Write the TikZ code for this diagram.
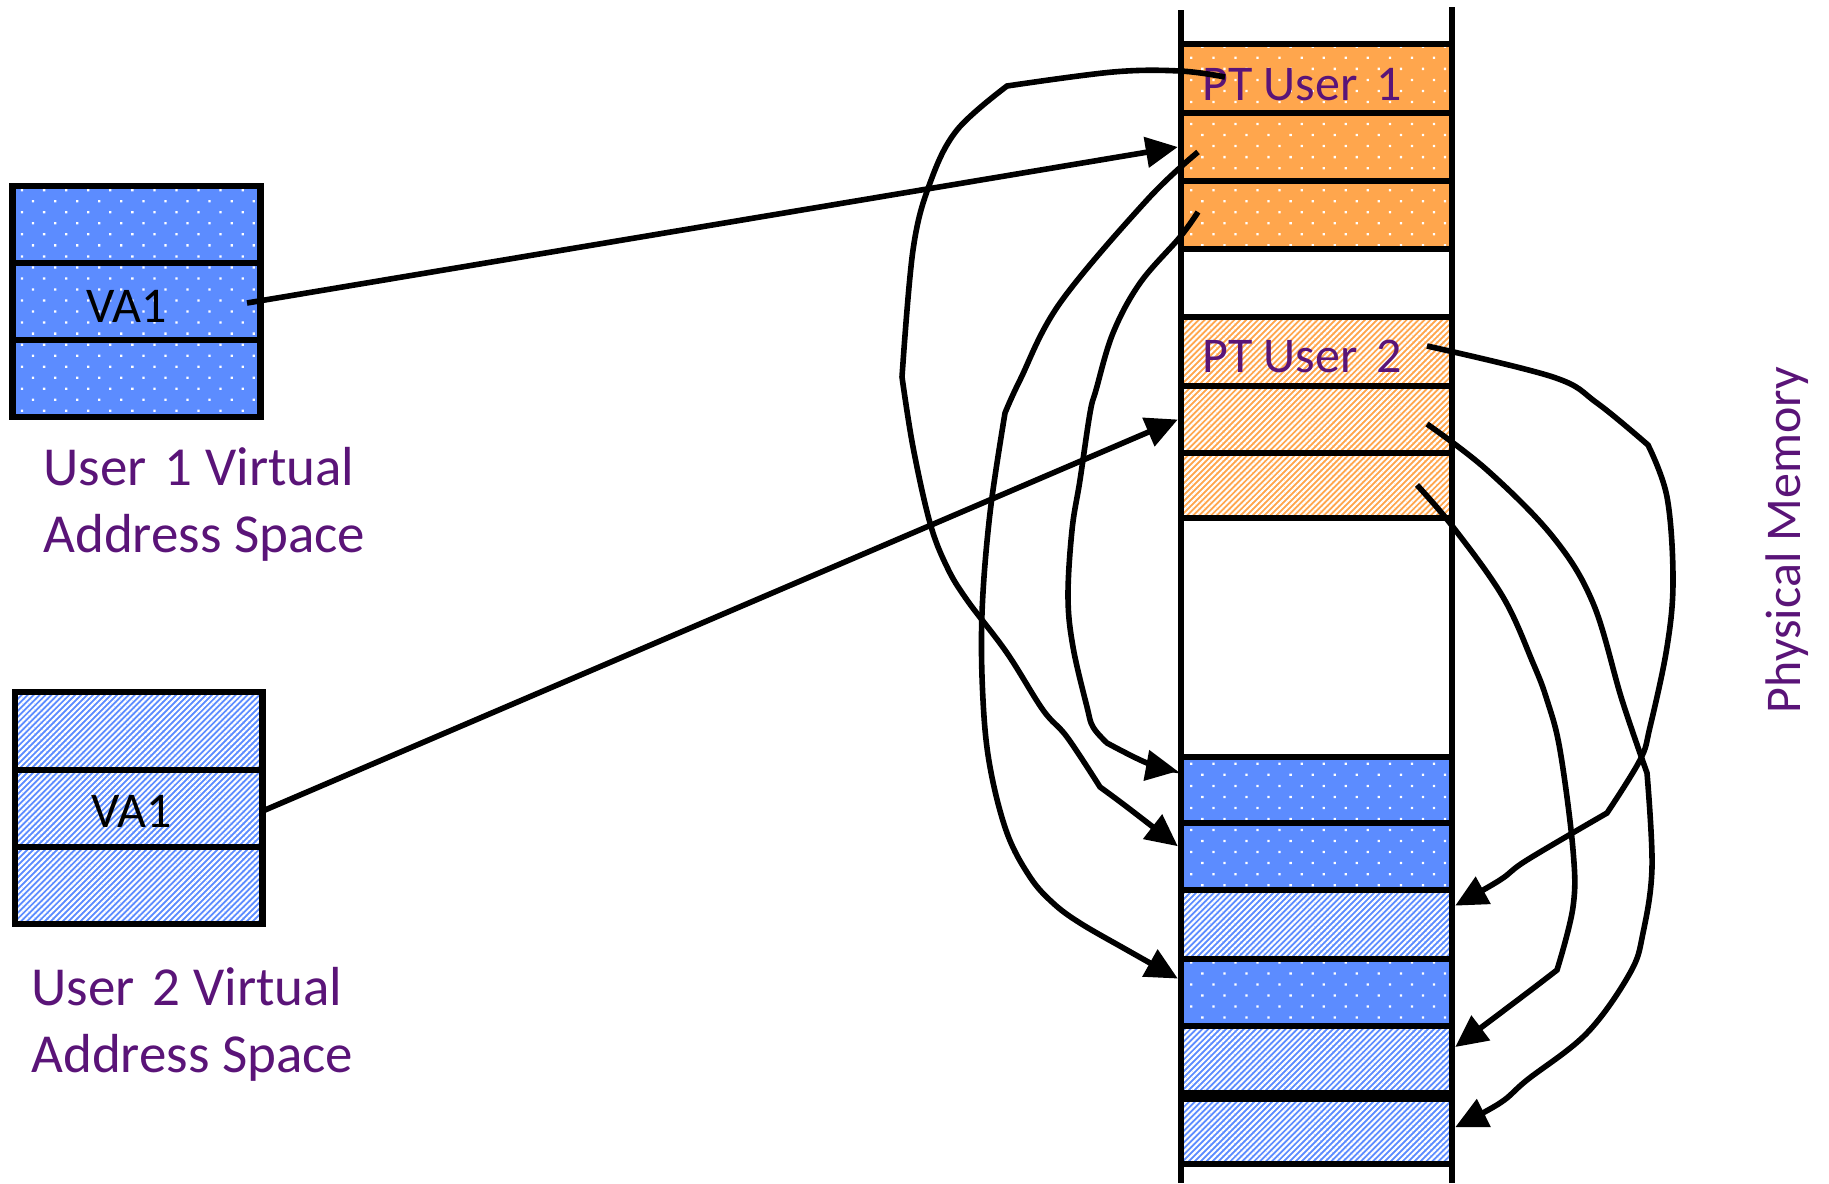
\documentclass[tikz,border=0pt]{standalone}
\usepackage{fontspec}
\setmainfont{Carlito}
\usetikzlibrary{arrows.meta,patterns.meta,fit,calc}

\definecolor{memorange}{RGB}{255,166,77}
\definecolor{memblue}{RGB}{92,140,255}
\definecolor{textpurple}{RGB}{90,20,120}

\tikzset{
  cell/.style={draw=black, line width=3.2pt, inner sep=0pt, preaction={fill=#1}},
  dotcell/.style={cell=#1, pattern={Dots[distance=7.8pt,angle=45,radius=0.8pt]}, pattern color=white},
  hatchcell/.style={cell=#1, pattern={Lines[angle=45,distance=2.1pt,line width=1.05pt]}, pattern color=white},
  rail/.style={line width=3.2pt},
  link/.style={line width=2.8pt, -{Triangle[length=16pt,width=15pt]}},
  celltext/.style={inner sep=0pt, font=\fontsize{25pt}{30pt}\selectfont},
  purpletext/.style={celltext, text=textpurple},
  spacelabel/.style={inner sep=0pt, text=textpurple, font=\fontsize{27.5pt}{33pt}\selectfont, anchor=base west},
}

\begin{document}
\begin{tikzpicture}[x=0.5pt, y=-0.5pt]
\useasboundingbox (0,0) rectangle (1829,1183);

% ---- user 1 virtual address space
\node[dotcell=memblue, fit={(12.5,186)(260.5,263)}] (u1a) {};
\node[dotcell=memblue, fit={(12.5,263)(260.5,340)}] (u1b) {};
\node[dotcell=memblue, fit={(12.5,340)(260.5,417)}] (u1c) {};
\node[celltext, anchor=base west] (va1) at (86,322) {VA1};
\node[spacelabel] (lab1a) at (43,485) {User\hspace{0.33em}1 Virtual};
\node[spacelabel] (lab1b) at (43,552) {Address Space};

% ---- user 2 virtual address space
\node[hatchcell=memblue, fit={(15,692)(262.5,770)}] (u2a) {};
\node[hatchcell=memblue, fit={(15,770)(262.5,847)}] (u2b) {};
\node[hatchcell=memblue, fit={(15,847)(262.5,924)}] (u2c) {};
\node[celltext, anchor=base west] (va2) at (91,827) {VA1};
\node[spacelabel] (lab2a) at (31,1005) {User\hspace{0.33em}2 Virtual};
\node[spacelabel] (lab2b) at (31,1072) {Address Space};

% ---- physical memory column
\node[dotcell=memorange, fit={(1181,44)(1452,113)}] (o1) {};
\node[dotcell=memorange, fit={(1181,113)(1452,181)}] (o2) {};
\node[dotcell=memorange, fit={(1181,181)(1452,249)}] (o3) {};
\node[hatchcell=memorange, fit={(1181,317)(1452,386)}] (o4) {};
\node[hatchcell=memorange, fit={(1181,386)(1452,453)}] (o5) {};
\node[hatchcell=memorange, fit={(1181,453)(1452,518)}] (o6) {};

\node[dotcell=memblue, fit={(1181,757)(1452,823)}] (b1) {};
\node[dotcell=memblue, fit={(1181,823)(1452,890)}] (b2) {};
\node[hatchcell=memblue, fit={(1181,890)(1452,959)}] (b3) {};
\node[dotcell=memblue, fit={(1181,959)(1452,1026)}] (b4) {};
\node[hatchcell=memblue, fit={(1181,1026)(1452,1093)}] (b5) {};
\node[hatchcell=memblue, fit={(1181,1099)(1452,1164)}] (b6) {};

\draw[rail] (1181,10) -- (1181,1183);
\draw[rail] (1452,7) -- (1452,1183);

\node[purpletext, anchor=base west] (pt1) at (1202,100) {PT User\hspace{0.38em}1};
\node[purpletext, anchor=base west] (pt2) at (1202,372) {PT User\hspace{0.38em}2};
\node[purpletext, rotate=90, anchor=base] (phys) at (1800,540) {Physical Memory};

% ---- connector ends
\coordinate (a1s) at (247,303);
\coordinate (a2s) at (265,810);
\coordinate (c1s) at (1225,77);
\coordinate (c2s) at (1198,152);
\coordinate (c3s) at (1198,212);
\coordinate (d1s) at (1427,346);
\coordinate (d2s) at (1427,424);
\coordinate (d3s) at (1417,485);

\coordinate (c1e) at ($(b2.north west)!0.36!(b2.south west)$);
\coordinate (c2e) at ($(b4.north west)!0.31!(b4.south west)$);
\coordinate (c3e) at ($(b1.north west)!0.24!(b1.south west)$);
\coordinate (d1e) at ($(b3.north east)!0.25!(b3.south east)$);
\coordinate (d2e) at ($(b6.north east)!0.44!(b6.south east)$);
\coordinate (d3e) at ($(b5.north east)!0.33!(b5.south east)$);

% ---- virtual address -> page table entry
\draw[link] (a1s) -- (o2.west);
\draw[link] (a2s) -- (o5.west);

% ---- page table entries -> frames (user 1)
\draw[link] plot[smooth,tension=0.6] coordinates {(c1s) (1180,71) (1113,72) (1007,86)}
  -- plot[smooth,tension=0.6] coordinates {(1007,86) (957,130) (930,183) (913,250) (902,377)}
  -- plot[smooth,tension=0.6] coordinates {(902,377) (913,447) (930,523) (947,567) (967,600) (1007,653) (1043,710) (1067,737) (1100,787)}
  -- plot[smooth,tension=0.6] coordinates {(1100,787) (1127,807) (c1e)};

\draw[link] plot[smooth,tension=0.6] coordinates {(c2s) (1147,200) (1060,303) (1020,380) (1005,413)}
  -- plot[smooth,tension=0.6] coordinates {(1005,413) (990,513) (982,613) (983,700) (990,767) (1007,833) (1030,877) (1053,903) (1080,923) (1127,950) (c2e)};

\draw[link] plot[smooth,tension=0.6] coordinates {(c3s) (1180,237) (1140,283) (1113,333) (1096,390) (1090,413) (1080,480) (1072,530) (1068,597) (1073,647) (1087,707) (1093,727) (1107,743)}
  -- plot[smooth,tension=0.6] coordinates {(1107,743) (1147,763) (c3e)};

% ---- page table entries -> frames (user 2)
\draw[link] plot[smooth,tension=0.6] coordinates {(d1s) (1553,377) (1597,403) (1648,445)}
  -- plot[smooth,tension=0.6] coordinates {(1648,445) (1667,497) (1673,580) (1667,647) (1650,727) (1640,760) (1607,813)}
  -- plot[smooth,tension=0.6] coordinates {(1607,813) (1527,860) (1500,880) (d1e)};

\draw[link] plot[smooth,tension=0.6] coordinates {(d2s) (1487,470) (1553,537) (1593,603) (1622,700) (1647,773)}
  -- plot[smooth,tension=0.6] coordinates {(1647,773) (1652,867) (1643,933) (1630,973) (1587,1033) (1527,1080) (1500,1103) (d2e)};

\draw[link] plot[smooth,tension=0.6] coordinates {(d3s) (1453,527) (1503,597) (1533,663) (1547,700) (1560,750) (1573,850) (1573,907) (1557,970)}
  -- plot[smooth,tension=0.6] coordinates {(1557,970) (1527,993) (d3e)};
\end{tikzpicture}
\end{document}
